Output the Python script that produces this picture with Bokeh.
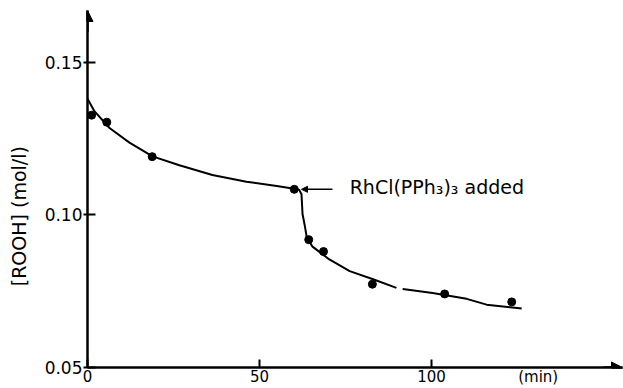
from bokeh.plotting import figure
from bokeh.models import Range1d, FixedTicker, Label, Arrow, NormalHead
from bokeh.embed import file_html
from bokeh.resources import INLINE

# measured points: time (min) vs [ROOH] (mol/l)
time_pts = [1.2, 5.6, 18.8, 60.1, 64.3, 68.6, 82.8, 103.8, 123.3]
rooh_pts = [0.1327, 0.1304, 0.1191, 0.1084, 0.0919, 0.0880, 0.0773, 0.0741, 0.0715]

# hand-drawn fitted curve (gap in the original drawing near 90 min)
curve_t = [0, 2, 6.4, 12.2, 18.9, 26.7, 36.3, 46.2, 55, 59.6, 61.5, 62.2, 62.5,
           63.1, 63.7, 64.4, 65.4, 70.3, 76.2, 82.8, 89.8, float("nan"), 91.6,
           100.3, 110.2, 116.0, 126.2]
curve_y = [0.1381, 0.1340, 0.1285, 0.1237, 0.1192, 0.1163, 0.1131, 0.1109,
           0.1095, 0.1087, 0.1083, 0.1068, 0.1003, 0.0968, 0.0929, 0.0915,
           0.0896, 0.0854, 0.0816, 0.0790, 0.0761, float("nan"), 0.0757,
           0.0744, 0.0725, 0.0706, 0.0693]

x_ticks = [0, 50, 100]
x_tick_labels = ["0", "50", "100"]
y_ticks = [0.05, 0.10, 0.15]
y_tick_labels = ["0.05", "0.10", "0.15"]

x_title = "(min)"
x_title_pos = 131
y_title = "[ROOH] (mol/l)"
annot_text = "RhCl(PPh\u2083)\u2083 added"
annot_point = 3  # index of the point where the catalyst was added

FONT = "DejaVu Sans"
X_END = 155.5
Y_END = 0.1670

p = figure(width=623, height=388, output_backend="svg", toolbar_location=None,
           x_range=Range1d(0, X_END), y_range=Range1d(0.05, Y_END),
           min_border_left=87, min_border_right=1, min_border_top=10,
           min_border_bottom=0)
p.outline_line_color = None
p.grid.visible = False
p.background_fill_color = "white"

for ax in (p.xaxis[0], p.yaxis[0]):
    ax.axis_line_width = 2.5
    ax.axis_line_color = "black"
    ax.major_tick_line_width = 2
    ax.major_tick_line_color = "black"
    ax.minor_tick_line_width = 2
    ax.major_label_text_font = FONT
    ax.major_label_text_color = "black"

# x axis: value ticks plus the unit label "(min)" placed like a tick label
x_all = x_ticks + [x_title_pos]
p.xaxis.ticker = FixedTicker(ticks=x_all, minor_ticks=x_ticks)
p.xaxis.major_label_overrides = dict(zip(x_all, x_tick_labels + [x_title]))
p.xaxis.major_tick_line_color = None
p.xaxis.minor_tick_line_color = "black"
p.xaxis.minor_tick_in = 8
p.xaxis.minor_tick_out = 0
p.xaxis.major_tick_in = 0
p.xaxis.major_tick_out = 0
p.xaxis.major_label_standoff = 0
p.xaxis.major_label_text_font_size = "15px"

p.yaxis.ticker = FixedTicker(ticks=y_ticks)
p.yaxis.major_label_overrides = dict(zip(y_ticks, y_tick_labels))
p.yaxis.minor_tick_line_color = None
p.yaxis.major_tick_in = 8
p.yaxis.major_tick_out = 4
p.yaxis.major_label_standoff = 1
p.yaxis.major_label_text_font_size = "17px"
p.yaxis.axis_label = y_title + "\u00a0" * 9
p.yaxis.axis_label_text_font = FONT
p.yaxis.axis_label_text_font_size = "19px"
p.yaxis.axis_label_text_font_style = "normal"
p.yaxis.axis_label_text_color = "black"
p.yaxis.axis_label_standoff = 12

# axis arrowheads
p.add_layout(Arrow(end=NormalHead(size=11, fill_color="black", line_color="black"),
                   x_start=0, y_start=0.16, x_end=0, y_end=Y_END,
                   line_width=2.5, line_color="black"))
p.add_layout(Arrow(end=NormalHead(size=11, fill_color="black", line_color="black"),
                   x_start=150, y_start=0.05, x_end=X_END, y_end=0.05,
                   line_width=2.5, line_color="black"))

# curve and points
p.line(curve_t, curve_y, line_width=2, line_color="black")
p.scatter(time_pts, rooh_pts, size=8, fill_color="black", line_color="black")

# annotation
ay = rooh_pts[annot_point]
ax0 = time_pts[annot_point]
p.add_layout(Arrow(end=NormalHead(size=6, fill_color="black", line_color="black"),
                   x_start=ax0 + 11.1, y_start=ay, x_end=ax0 + 2.1, y_end=ay,
                   line_width=1.5, line_color="black"))
p.add_layout(Label(x=ax0 + 16.1, y=ay, y_offset=2, text=annot_text,
                   text_font=FONT, text_font_size="19px", text_baseline="middle",
                   text_align="left", text_color="black"))

open("out.html", "w").write(file_html(p, INLINE))
